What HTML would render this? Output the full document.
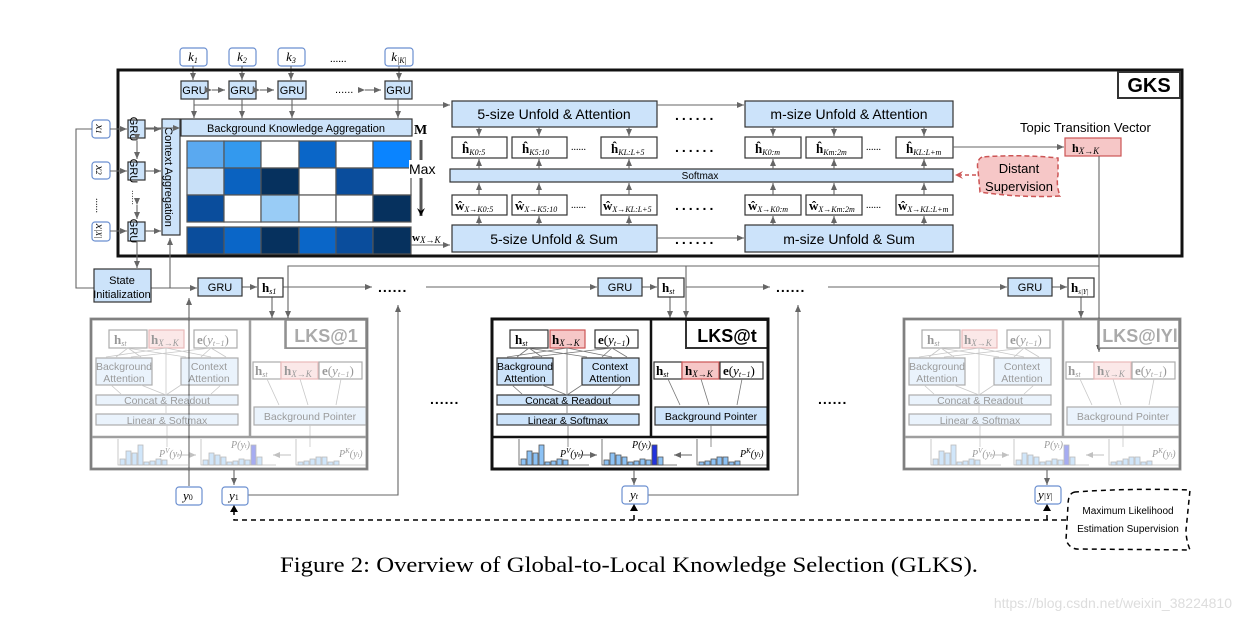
<!DOCTYPE html>
<html><head><meta charset="utf-8"><style>
html,body{margin:0;padding:0;background:#fff;}
svg{display:block;}
text{font-family:"Liberation Sans",sans-serif;}
.m, .m text, .m tspan, text.m{font-family:"Liberation Serif",serif;}
.b{fill:#cce3fa;stroke:#333;stroke-width:1.2;}
.w{fill:#fff;stroke:#333;stroke-width:1.2;}
.p{fill:#f6c7c7;stroke:#c55;stroke-width:1.2;}
.kb{fill:#fff;stroke:#6b8fd0;stroke-width:1.2;}
.ln{stroke:#666;stroke-width:1.1;fill:none;}
</style></head><body>
<svg width="1240" height="620" viewBox="0 0 1240 620" xmlns="http://www.w3.org/2000/svg">
<defs>
<marker id="a" markerWidth="8" markerHeight="8" refX="7" refY="4" orient="auto" markerUnits="userSpaceOnUse"><path d="M0,1 L7,4 L0,7 z" fill="#666"/></marker>
<marker id="ak" markerWidth="10" markerHeight="10" refX="8" refY="5" orient="auto" markerUnits="userSpaceOnUse"><path d="M0,1 L8,5 L0,9 L3,5 z" fill="#000"/></marker>
<marker id="ar" markerWidth="10" markerHeight="10" refX="8" refY="5" orient="auto" markerUnits="userSpaceOnUse"><path d="M0,1 L8,5 L0,9 L3,5 z" fill="#c55"/></marker>
</defs>

<!-- k inputs -->
<g font-size="13" class="m">
<rect class="kb" x="180" y="48" width="27" height="18" rx="3"/><text x="193" y="61" text-anchor="middle" font-style="italic">k<tspan font-size="8" dy="2">1</tspan></text>
<rect class="kb" x="229" y="48" width="27" height="18" rx="3"/><text x="242" y="61" text-anchor="middle" font-style="italic">k<tspan font-size="8" dy="2">2</tspan></text>
<rect class="kb" x="278" y="48" width="27" height="18" rx="3"/><text x="291" y="61" text-anchor="middle" font-style="italic">k<tspan font-size="8" dy="2">3</tspan></text>
<text x="330" y="62" font-size="11">......</text>
<rect class="kb" x="385" y="48" width="28" height="18" rx="3"/><text x="399" y="61" text-anchor="middle" font-style="italic">k<tspan font-size="8" dy="2">|K|</tspan></text>
</g>
<g class="ln"><path d="M193 66V80" marker-end="url(#a)"/><path d="M242 66V80" marker-end="url(#a)"/><path d="M291 66V80" marker-end="url(#a)"/><path d="M399 66V80" marker-end="url(#a)"/></g>

<!-- GKS frame -->
<rect x="118" y="70" width="1064" height="186" fill="none" stroke="#111" stroke-width="3"/>
<rect x="1118" y="72" width="62" height="26" fill="#fff" stroke="#333" stroke-width="2"/>
<text x="1149" y="92" font-size="20" font-weight="bold" text-anchor="middle">GKS</text>

<!-- GRU row -->
<g font-size="11">
<rect class="b" x="181" y="81" width="27" height="18"/><text x="194.5" y="94" text-anchor="middle">GRU</text>
<rect class="b" x="229" y="81" width="27" height="18"/><text x="242.5" y="94" text-anchor="middle">GRU</text>
<rect class="b" x="278" y="81" width="28" height="18"/><text x="292" y="94" text-anchor="middle">GRU</text>
<text x="335" y="93" font-size="11">......</text>
<rect class="b" x="385" y="81" width="27" height="18"/><text x="398.5" y="94" text-anchor="middle">GRU</text>
</g>
<g class="ln">
<path d="M212 90H225" marker-end="url(#a)" marker-start="url(#a)"/>
<path d="M260 90H274" marker-end="url(#a)" marker-start="url(#a)"/>
<path d="M365 90H381" marker-end="url(#a)" marker-start="url(#a)"/>
<path d="M194 99V118" marker-end="url(#a)"/><path d="M242 99V118" marker-end="url(#a)"/><path d="M292 99V118" marker-end="url(#a)"/><path d="M398 99V118" marker-end="url(#a)"/>
<path d="M194 105H450" marker-end="url(#a)"/>
</g>
<rect class="b" x="181" y="119" width="231" height="17"/>
<text x="296" y="132" font-size="11" text-anchor="middle">Background Knowledge Aggregation</text>

<!-- matrix -->
<g stroke="#555" stroke-width="1.2">
<rect x="187" y="141" width="37" height="27" fill="#5aa9f0"/><rect x="224" y="141" width="37" height="27" fill="#3399ee"/><rect x="261" y="141" width="38" height="27" fill="#fff"/><rect x="299" y="141" width="37" height="27" fill="#0a66c8"/><rect x="336" y="141" width="37" height="27" fill="#fff"/><rect x="373" y="141" width="38" height="27" fill="#0a84ff"/>
<rect x="187" y="168" width="37" height="27" fill="#c8e0f8"/><rect x="224" y="168" width="37" height="27" fill="#0a62c0"/><rect x="261" y="168" width="38" height="27" fill="#06315e"/><rect x="299" y="168" width="37" height="27" fill="#fff"/><rect x="336" y="168" width="37" height="27" fill="#0a4d9c"/><rect x="373" y="168" width="38" height="27" fill="#fff"/>
<rect x="187" y="195" width="37" height="27" fill="#0a4d9c"/><rect x="224" y="195" width="37" height="27" fill="#fff"/><rect x="261" y="195" width="38" height="27" fill="#99ccf6"/><rect x="299" y="195" width="37" height="27" fill="#fff"/><rect x="336" y="195" width="37" height="27" fill="#fff"/><rect x="373" y="195" width="38" height="27" fill="#06315e"/>
<rect x="187" y="227" width="37" height="27" fill="#0a4d9c"/><rect x="224" y="227" width="37" height="27" fill="#0a66c8"/><rect x="261" y="227" width="38" height="27" fill="#06315e"/><rect x="299" y="227" width="37" height="27" fill="#0a66c8"/><rect x="336" y="227" width="37" height="27" fill="#0a4d9c"/><rect x="373" y="227" width="38" height="27" fill="#06315e"/>
</g>
<text class="m" x="414" y="134" font-size="14" font-weight="bold">M</text>
<path d="M421 140V216" stroke="#555" stroke-width="3" marker-end="url(#ak)"/>
<rect x="409" y="160" width="28" height="18" fill="#fff"/>
<text x="409" y="174" font-size="14">Max</text>
<text class="m" x="412" y="241" font-size="11" font-weight="bold">w<tspan font-style="italic" font-weight="normal" font-size="9" dy="2">X→K</tspan></text>
<path class="ln" d="M411 245H450" marker-end="url(#a)"/>

<!-- x inputs -->
<g class="m" font-size="12" font-style="italic">
<rect class="kb" x="92" y="120" width="18" height="18" rx="3"/><text transform="translate(96,129) rotate(90)" text-anchor="middle">x<tspan font-size="8">1</tspan></text>
<rect class="kb" x="92" y="162" width="18" height="17" rx="3"/><text transform="translate(96,170) rotate(90)" text-anchor="middle">x<tspan font-size="8">2</tspan></text>
<text transform="translate(96,198) rotate(90)" font-style="normal" font-size="10">......</text>
<rect class="kb" x="92" y="222" width="18" height="19" rx="3"/><text transform="translate(96,231) rotate(90)" text-anchor="middle">x<tspan font-size="8">|X|</tspan></text>
</g>
<g font-size="11">
<rect class="b" x="128" y="120" width="17" height="18"/><text transform="translate(130,129) rotate(90)" text-anchor="middle">GRU</text>
<rect class="b" x="128" y="162" width="17" height="18"/><text transform="translate(130,171) rotate(90)" text-anchor="middle">GRU</text>
<text transform="translate(132,190) rotate(90)" font-size="9">......</text>
<rect class="b" x="128" y="222" width="17" height="19"/><text transform="translate(130,231) rotate(90)" text-anchor="middle">GRU</text>
<rect class="b" x="162" y="119" width="18" height="116"/><text transform="translate(165,177) rotate(90)" text-anchor="middle">Context Aggregation</text>
</g>
<g class="ln">
<path d="M110 129H127" marker-end="url(#a)"/><path d="M110 171H127" marker-end="url(#a)"/><path d="M110 231H127" marker-end="url(#a)"/>
<path d="M145 129H161" marker-end="url(#a)"/><path d="M145 171H161" marker-end="url(#a)"/><path d="M145 231H161" marker-end="url(#a)"/>
<path d="M137 141V159" marker-start="url(#a)" marker-end="url(#a)"/><path d="M137 205V219" marker-start="url(#a)" marker-end="url(#a)"/>
<path d="M145 128H180" marker-end="url(#a)"/>
<path d="M137 241V268" marker-end="url(#a)"/>
<path d="M92 129H76V288H94"/>
<path d="M151 288H197" marker-end="url(#a)"/>
<path d="M170 288V238" marker-end="url(#a)"/>
</g>
<rect class="b" x="94" y="269" width="57" height="33"/>
<text x="122" y="284" font-size="11" text-anchor="middle">State</text>
<text x="122" y="298" font-size="11" text-anchor="middle">Initialization</text>

<!-- Unfold blocks -->
<g font-size="14">
<rect class="b" x="452" y="101" width="205" height="26"/><text x="554" y="119" text-anchor="middle">5-size Unfold &amp; Attention</text>
<rect class="b" x="745" y="101" width="208" height="26"/><text x="849" y="119" text-anchor="middle">m-size Unfold &amp; Attention</text>
<rect class="b" x="452" y="225" width="205" height="27"/><text x="554" y="244" text-anchor="middle">5-size Unfold &amp; Sum</text>
<rect class="b" x="745" y="225" width="208" height="27"/><text x="849" y="244" text-anchor="middle">m-size Unfold &amp; Sum</text>
</g>
<g font-size="14" font-weight="bold" letter-spacing="3"><text x="675" y="120">......</text><text x="675" y="152">......</text><text x="675" y="210">......</text><text x="675" y="244">......</text></g>
<g class="ln"><path d="M657 105H744" marker-end="url(#a)"/><path d="M657 238H744" marker-end="url(#a)"/></g>
<rect class="b" x="450" y="169" width="503" height="13"/>
<text x="700" y="179" font-size="10" text-anchor="middle">Softmax</text>
<g class="m" font-size="13">
<rect class="w" x="452" y="137" width="55" height="21"/><text x="462" y="153" font-weight="bold">ĥ<tspan font-weight="normal" font-style="italic" font-size="8" dy="2">K0:5</tspan></text>
<rect class="w" x="512" y="137" width="55" height="21"/><text x="522" y="153" font-weight="bold">ĥ<tspan font-weight="normal" font-style="italic" font-size="8" dy="2">K5:10</tspan></text>
<text x="571" y="150" font-size="10">......</text>
<rect class="w" x="601" y="137" width="56" height="21"/><text x="611" y="153" font-weight="bold">ĥ<tspan font-weight="normal" font-style="italic" font-size="8" dy="2">KL:L+5</tspan></text>
<rect class="w" x="745" y="137" width="56" height="21"/><text x="755" y="153" font-weight="bold">ĥ<tspan font-weight="normal" font-style="italic" font-size="8" dy="2">K0:m</tspan></text>
<rect class="w" x="806" y="137" width="56" height="21"/><text x="816" y="153" font-weight="bold">ĥ<tspan font-weight="normal" font-style="italic" font-size="8" dy="2">Km:2m</tspan></text>
<text x="866" y="150" font-size="10">......</text>
<rect class="w" x="896" y="137" width="57" height="21"/><text x="906" y="153" font-weight="bold">ĥ<tspan font-weight="normal" font-style="italic" font-size="8" dy="2">KL:L+m</tspan></text>
<rect class="w" x="452" y="195" width="55" height="20"/><text x="455" y="210" font-weight="bold">ŵ<tspan font-weight="normal" font-style="italic" font-size="8" dy="2">X→K0:5</tspan></text>
<rect class="w" x="512" y="195" width="55" height="20"/><text x="515" y="210" font-weight="bold">ŵ<tspan font-weight="normal" font-style="italic" font-size="8" dy="2">X→K5:10</tspan></text>
<text x="571" y="208" font-size="10">......</text>
<rect class="w" x="601" y="195" width="56" height="20"/><text x="603" y="210" font-weight="bold">ŵ<tspan font-weight="normal" font-style="italic" font-size="8" dy="2">X→KL:L+5</tspan></text>
<rect class="w" x="745" y="195" width="56" height="20"/><text x="748" y="210" font-weight="bold">ŵ<tspan font-weight="normal" font-style="italic" font-size="8" dy="2">X→K0:m</tspan></text>
<rect class="w" x="806" y="195" width="56" height="20"/><text x="809" y="210" font-weight="bold">ŵ<tspan font-weight="normal" font-style="italic" font-size="8" dy="2">X→Km:2m</tspan></text>
<text x="866" y="208" font-size="10">......</text>
<rect class="w" x="896" y="195" width="57" height="20"/><text x="898" y="210" font-weight="bold">ŵ<tspan font-weight="normal" font-style="italic" font-size="8" dy="2">X→KL:L+m</tspan></text>
</g>
<g class="ln">
<path d="M479 127V136" marker-end="url(#a)"/><path d="M539 127V136" marker-end="url(#a)"/><path d="M629 127V136" marker-end="url(#a)"/>
<path d="M773 127V136" marker-end="url(#a)"/><path d="M834 127V136" marker-end="url(#a)"/><path d="M924 127V136" marker-end="url(#a)"/>
<path d="M479 169V159" marker-end="url(#a)"/><path d="M539 169V159" marker-end="url(#a)"/><path d="M629 169V159" marker-end="url(#a)"/>
<path d="M773 169V159" marker-end="url(#a)"/><path d="M834 169V159" marker-end="url(#a)"/><path d="M924 169V159" marker-end="url(#a)"/>
<path d="M479 195V183" marker-end="url(#a)"/><path d="M539 195V183" marker-end="url(#a)"/><path d="M629 195V183" marker-end="url(#a)"/>
<path d="M773 195V183" marker-end="url(#a)"/><path d="M834 195V183" marker-end="url(#a)"/><path d="M924 195V183" marker-end="url(#a)"/>
<path d="M479 225V216" marker-end="url(#a)"/><path d="M539 225V216" marker-end="url(#a)"/><path d="M629 225V216" marker-end="url(#a)"/>
<path d="M773 225V216" marker-end="url(#a)"/><path d="M834 225V216" marker-end="url(#a)"/><path d="M924 225V216" marker-end="url(#a)"/>
<path d="M953 147H1064" marker-end="url(#a)"/>
</g>
<text x="1020" y="132" font-size="13">Topic Transition Vector</text>
<rect class="p" x="1065" y="138" width="56" height="18"/>
<text class="m" x="1072" y="152" font-size="12" font-weight="bold">h<tspan font-weight="normal" font-style="italic" font-size="9" dy="2">X→K</tspan></text>
<path d="M982 157 Q976 160 978 170 L980 192 Q1020 198 1060 196 Q1056 185 1058 175 L1058 158 Q1020 154 982 157 z" fill="#f6c7c7" stroke="#c55" stroke-width="1.5" stroke-dasharray="5,3"/>
<text x="1019" y="173" font-size="13" text-anchor="middle">Distant</text>
<text x="1019" y="191" font-size="13" text-anchor="middle">Supervision</text>
<path d="M976 175H955" stroke="#c55" stroke-width="1.5" stroke-dasharray="4,3" fill="none" marker-end="url(#ar)"/>

<!-- decoder row -->
<g class="ln">
<path d="M1099 156V266H288V318" marker-end="url(#a)"/>
<path d="M686 266V318" marker-end="url(#a)"/>
<path d="M1099 266V352" marker-end="url(#a)"/>
<path d="M242 287H257" marker-end="url(#a)"/>
<path d="M283 287H372" marker-end="url(#a)"/>
<path d="M426 287H597" marker-end="url(#a)"/>
<path d="M642 287H657" marker-end="url(#a)"/>
<path d="M686 287H770" marker-end="url(#a)"/>
<path d="M828 287H1007" marker-end="url(#a)"/>
<path d="M1052 287H1067" marker-end="url(#a)"/>
<path d="M272 297V318" marker-end="url(#a)"/>
<path d="M670 297V318" marker-end="url(#a)"/>
<path d="M1081 297V318" marker-end="url(#a)"/>
<path d="M248 495H398V305" marker-end="url(#a)"/>
<path d="M648 495H798V305" marker-end="url(#a)"/>
<path d="M189 486V298" marker-end="url(#a)"/>
</g>
<g font-size="11">
<rect class="b" x="198" y="278" width="44" height="18"/><text x="220" y="291" text-anchor="middle">GRU</text>
<rect class="b" x="598" y="278" width="44" height="18"/><text x="620" y="291" text-anchor="middle">GRU</text>
<rect class="b" x="1008" y="278" width="44" height="18"/><text x="1030" y="291" text-anchor="middle">GRU</text>
</g>
<g class="m" font-size="13">
<rect class="w" x="258" y="278" width="25" height="19"/><text x="262" y="292" font-weight="bold">h<tspan font-weight="normal" font-style="italic" font-size="8" dy="2">s1</tspan></text>
<rect class="w" x="658" y="278" width="26" height="19"/><text x="662" y="292" font-weight="bold">h<tspan font-weight="normal" font-style="italic" font-size="8" dy="2">st</tspan></text>
<rect class="w" x="1068" y="278" width="26" height="19"/><text x="1071" y="292" font-weight="bold">h<tspan font-weight="normal" font-style="italic" font-size="7" dy="2">s|Y|</tspan></text>
</g>
<g font-size="14" font-weight="bold" letter-spacing="1"><text x="378" y="292">......</text><text x="776" y="292">......</text><text x="430" y="404">......</text><text x="818" y="404">......</text></g>

<!-- LKS template -->
<g id="lks" transform="translate(492,319)">
<g class="m" font-size="13">
<rect class="w" x="18" y="11" width="38" height="18"/><text x="23" y="25" font-weight="bold">h<tspan font-weight="normal" font-style="italic" font-size="8" dy="2">st</tspan></text>
<rect class="p" x="58" y="11" width="35" height="18"/><text x="60" y="25" font-weight="bold">h<tspan font-weight="normal" font-style="italic" font-size="9" dy="2">X→K</tspan></text>
<rect class="w" x="103" y="11" width="43" height="18"/><text x="106" y="25" font-weight="bold">e<tspan font-weight="normal">(</tspan><tspan font-weight="normal" font-style="italic">y</tspan><tspan font-weight="normal" font-style="italic" font-size="8" dy="2">t−1</tspan><tspan font-weight="normal" dy="-2">)</tspan></text>
<rect class="w" x="162" y="43" width="28" height="17"/><text x="164" y="56" font-weight="bold">h<tspan font-weight="normal" font-style="italic" font-size="8" dy="2">st</tspan></text>
<rect class="p" x="190" y="43" width="37" height="17"/><text x="193" y="56" font-weight="bold">h<tspan font-weight="normal" font-style="italic" font-size="9" dy="2">X→K</tspan></text>
<rect class="w" x="228" y="43" width="43" height="17"/><text x="231" y="56" font-weight="bold">e<tspan font-weight="normal">(</tspan><tspan font-weight="normal" font-style="italic">y</tspan><tspan font-weight="normal" font-style="italic" font-size="8" dy="2">t−1</tspan><tspan font-weight="normal" dy="-2">)</tspan></text>
</g>
<g font-size="10.5">
<rect class="b" x="5" y="39" width="56" height="27" stroke="#aaa"/><text x="33" y="51" text-anchor="middle">Background</text><text x="33" y="63" text-anchor="middle">Attention</text>
<rect class="b" x="90" y="39" width="57" height="27" stroke="#aaa"/><text x="118" y="51" text-anchor="middle">Context</text><text x="118" y="63" text-anchor="middle">Attention</text>
<rect class="b" x="5" y="76" width="142" height="10" stroke="#aaa"/><text x="76" y="85" text-anchor="middle">Concat &amp; Readout</text>
<rect class="b" x="5" y="95" width="142" height="11" stroke="#aaa"/><text x="76" y="105" text-anchor="middle">Linear &amp; Softmax</text>
<rect class="b" x="163" y="88" width="112" height="18" stroke="#aaa"/><text x="219" y="101" text-anchor="middle">Background Pointer</text>
</g>
<g stroke="#777" stroke-width="0.8" fill="none">
<path d="M37 29L25 38M37 29L50 38M75 29L15 38M75 29L120 38M75 29V76M120 29L40 38M120 29L110 38M120 29L135 38M35 29L95 38M50 66L75 76M90 66L75 76M20 66L30 75M130 66L120 75M75 86V94"/>
<path d="M176 60L188 86M209 60L217 86M250 60L245 86M219 106V128M76 106V128"/>
</g>
<path d="M0 118H276" stroke="#111" stroke-width="2.5"/>
<path d="M159 0V118" stroke="#111" stroke-width="2.5"/>
<rect x="194" y="1" width="82" height="28" fill="#fff" stroke="#333" stroke-width="2"/>
<text x="235" y="23" font-size="18" font-weight="bold" text-anchor="middle">LKS@t</text>
<g stroke="#555" stroke-width="0.8">
<path d="M27 120V146H97M110 120V146H185M205 120V146H275" fill="none"/>
<g fill="#8cc2f5"><rect x="29" y="140" width="5" height="6"/><rect x="35" y="132" width="5" height="14"/><rect x="41" y="134" width="5" height="12"/><rect x="47" y="126" width="5" height="20"/><rect x="53" y="143" width="5" height="3"/><rect x="59" y="142" width="5" height="4"/><rect x="65" y="140" width="5" height="6"/><rect x="71" y="141" width="5" height="5"/>
<rect x="112" y="141" width="5" height="5"/><rect x="118" y="134" width="5" height="12"/><rect x="124" y="136" width="5" height="10"/><rect x="130" y="138" width="5" height="8"/><rect x="136" y="143" width="5" height="3"/><rect x="142" y="142" width="5" height="4"/><rect x="148" y="140" width="5" height="6"/><rect x="154" y="141" width="5" height="5"/><rect x="166" y="138" width="5" height="8"/>
<rect x="207" y="143" width="5" height="3"/><rect x="213" y="142" width="5" height="4"/><rect x="219" y="140" width="5" height="6"/><rect x="225" y="138" width="5" height="8"/><rect x="231" y="138" width="5" height="8"/><rect x="237" y="143" width="5" height="3"/><rect x="243" y="142" width="5" height="4"/></g>
<rect x="160" y="126" width="5" height="20" fill="#2233dd"/>
</g>
<g class="m" font-size="10" font-style="italic"><text x="68" y="138">P<tspan font-size="7" dy="-4">V</tspan><tspan dy="4">(y</tspan><tspan font-size="6">t</tspan>)</text><text x="140" y="129">P(y<tspan font-size="6">t</tspan>)</text><text x="248" y="138">P<tspan font-size="7" dy="-4">K</tspan><tspan dy="4">(y</tspan><tspan font-size="6">t</tspan>)</text></g>
<g class="ln"><path d="M87 136H105" marker-end="url(#a)"/><path d="M200 136H182" marker-end="url(#a)"/></g>
<rect x="0" y="0" width="276" height="150" fill="none" stroke="#111" stroke-width="3"/>
</g>
<!-- faded copies -->
<use href="#lks" transform="translate(-401,0)" opacity="0.4"/>
<use href="#lks" transform="translate(412,0)" opacity="0.4"/>
<rect x="91" y="319" width="276" height="150" fill="none" stroke="#777" stroke-width="1.5"/>
<rect x="904" y="319" width="276" height="150" fill="none" stroke="#777" stroke-width="1.5"/>
<rect x="286" y="320" width="80" height="28" fill="#fff" stroke="#888" stroke-width="1.5"/>
<text x="326" y="342" font-size="18" font-weight="bold" fill="#aaa" text-anchor="middle">LKS@1</text>
<rect x="1099" y="320" width="80" height="28" fill="#fff" stroke="#888" stroke-width="1.5"/>
<text x="1140" y="342" font-size="18" font-weight="bold" fill="#aaa" text-anchor="middle">LKS@lYl</text>

<!-- outputs -->
<g class="ln"><path d="M234 470V485" marker-end="url(#a)"/><path d="M634 470V485" marker-end="url(#a)"/><path d="M1047 470V485" marker-end="url(#a)"/></g>
<g class="m" font-size="13" font-style="italic">
<rect class="kb" x="176" y="487" width="26" height="18" rx="3"/><text x="183" y="500">y<tspan font-size="8" font-style="normal">0</tspan></text>
<rect class="kb" x="222" y="487" width="26" height="18" rx="3"/><text x="229" y="500">y<tspan font-size="8" font-style="normal">1</tspan></text>
<rect class="kb" x="622" y="486" width="26" height="18" rx="3"/><text x="630" y="499">y<tspan font-size="8">t</tspan></text>
<rect class="kb" x="1035" y="486" width="26" height="18" rx="3"/><text x="1038" y="499">y<tspan font-size="8">|Y|</tspan></text>
</g>
<path d="M1066 520H234V508M634 520V506M1047 520V506" stroke="#000" stroke-width="1.5" stroke-dasharray="5,4" fill="none"/>
<path d="M230 512L234 505L238 512z M630 511L634 504L638 511z M1043 511L1047 504L1051 511z" fill="#000"/>
<path d="M1075 492 Q1068 493 1068 505 L1066 540 Q1070 550 1080 549 L1190 550 Q1186 540 1186 530 L1190 490 Q1130 488 1075 492 z" fill="#fff" stroke="#000" stroke-width="1.5" stroke-dasharray="5,4"/>
<text x="1128" y="514" font-size="10" text-anchor="middle">Maximum Likelihood</text>
<text x="1128" y="532" font-size="10" text-anchor="middle">Estimation Supervision</text>

<text class="m" x="280" y="572" font-size="22" textLength="698" lengthAdjust="spacingAndGlyphs">Figure 2: Overview of Global-to-Local Knowledge Selection (GLKS).</text>
<text x="1232" y="608" font-size="14" fill="#ddd" text-anchor="end">https://blog.csdn.net/weixin_38224810</text>
</svg>
</body></html>
